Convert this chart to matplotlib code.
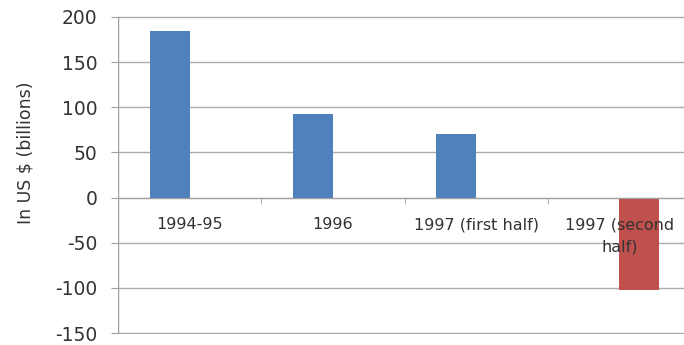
import matplotlib.pyplot as plt
import numpy as np

categories = ["1994-95", "1996", "1997 (first half)", "1997 (second\nhalf)"]
inflows = [184, 93, 70, 0]
outflows = [0, 0, 0, -102]

plt.rcParams['font.family'] = ['DejaVu Sans']
plt.rcParams['axes.unicode_minus'] = False

fig = plt.figure(figsize=(6.84, 3.45), dpi=100)
# axes run a little past the right edge, as in the cropped source
ax = fig.add_axes([118/684, (345-334)/345, (691-118)/684, (334-16)/345])

x = np.arange(len(categories))
w = 0.28
ax.bar(x - w/2, inflows, w, color="#4F81BD", zorder=2)
ax.bar(x + w/2, outflows, w, color="#C0504D", zorder=2)

ax.set_xlim(-0.5, len(categories) - 0.5)
ax.set_ylim(-151, 201)
ax.set_yticks(range(-150, 201, 50))
ax.yaxis.grid(True, color="#ABABAB", linewidth=1)
ax.set_axisbelow(True)

for s in ["top", "right", "left"]:
    ax.spines[s].set_visible(False)
ax.axvline(-0.5, ymin=1/352, ymax=351/352, color="#A0A0A0", linewidth=1, zorder=1)
ax.spines["bottom"].set_position(("data", 0))
ax.spines["bottom"].set_color("#A0A0A0")

# category labels drawn on top of the bars
ax.set_xticks(x)
ax.set_xticklabels([])
for xi, lab in zip(x, categories):
    ax.annotate(lab, (xi, 0), xytext=(0, -14), textcoords="offset points",
                ha="center", va="top", fontsize=11.5, color="#333333",
                linespacing=1.6, zorder=5)
ax.set_xticks(np.arange(len(categories)) + 0.5, minor=True)
ax.tick_params(axis="x", which="major", length=0)
ax.tick_params(axis="x", which="minor", length=4, color="#A0A0A0")
ax.tick_params(axis="y", length=5, color="#A0A0A0", labelsize=13.5, pad=10, labelcolor="#333333")

ax.set_ylabel("In US $ (billions)", fontsize=12.5, color="#333333")
ax.yaxis.set_label_coords(-0.146, 0.57)

fig.savefig("out.png", dpi=100)
